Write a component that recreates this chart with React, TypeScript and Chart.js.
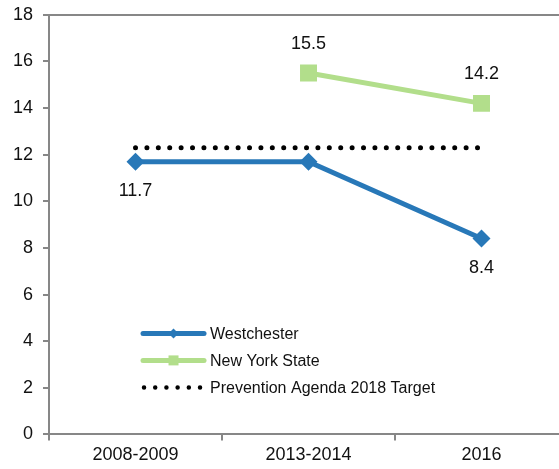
import { useEffect, useRef } from 'react';
import { Chart, registerables } from 'chart.js';

Chart.register(...registerables);

const categories = ['2008-2009', '2013-2014', '2016'];
const westchester = [11.7, 11.7, 8.4];
const newYorkState = [null, 15.5, 14.2];
const preventionTarget = [12.3, 12.3, 12.3];
const seriesNames = ['Westchester', 'New York State', 'Prevention Agenda 2018 Target'];
const westchesterShown = [true, false, true];
const newYorkShown = [false, true, true];
const targetShown = [false, false, false];
const labelSides = ['below', 'above', 'none'];
const yMin = 0;
const yMax = 18;
const yStep = 2;

const FONT = "'Liberation Sans', Arial, Helvetica, sans-serif";
const GRAY = '#878787';
const BLUE = '#2878B8';
const GREEN = '#B2DE8B';
const TEXT = '#111111';

const valueLabelPlugin = {
  id: 'valueLabels',
  afterDatasetsDraw(chart: any) {
    const ctx = chart.ctx;
    ctx.save();
    ctx.font = `18px ${FONT}`;
    ctx.fillStyle = TEXT;
    ctx.textAlign = 'center';
    ctx.textBaseline = 'middle';
    chart.data.datasets.forEach((ds: any, i: number) => {
      const side = ds.labelSide;
      if (!side || side === 'none') return;
      const meta = chart.getDatasetMeta(i);
      meta.data.forEach((pt: any, j: number) => {
        const v = ds.data[j];
        if (v === null || v === undefined) return;
        if (ds.labelShown && !ds.labelShown[j]) return;
        const off = side === 'below' ? 29 : -29;
        ctx.fillText(Number(v).toFixed(1), pt.x, pt.y + off);
      });
    });
    ctx.restore();
  },
};

const legendPlugin = {
  id: 'insideLegend',
  afterDraw(chart: any) {
    const ctx = chart.ctx;
    const area = chart.chartArea;
    const x0 = area.left + 94;
    const len = 61;
    const rowGap = 27;
    const y0 = area.bottom - 101;
    ctx.save();
    chart.data.datasets.forEach((ds: any, i: number) => {
      const y = y0 + i * rowGap;
      ctx.save();
      ctx.strokeStyle = ds.borderColor;
      ctx.fillStyle = ds.borderColor;
      if (ds.borderDash && ds.borderDash.length) {
        ctx.lineWidth = 4.5;
        ctx.lineCap = 'round';
        ctx.setLineDash([0, 11.2]);
        ctx.beginPath();
        ctx.moveTo(x0 + 1, y);
        ctx.lineTo(x0 + 58, y);
        ctx.stroke();
      } else {
        ctx.lineWidth = 5;
        ctx.lineCap = 'round';
        ctx.beginPath();
        ctx.moveTo(x0, y);
        ctx.lineTo(x0 + len, y);
        ctx.stroke();
        const cx = x0 + len / 2;
        ctx.beginPath();
        if (ds.pointStyle === 'rectRot') {
          const r = 5;
          ctx.moveTo(cx, y - r);
          ctx.lineTo(cx + r, y);
          ctx.lineTo(cx, y + r);
          ctx.lineTo(cx - r, y);
          ctx.closePath();
        } else {
          ctx.rect(cx - 5, y - 5, 10, 10);
        }
        ctx.fill();
      }
      ctx.restore();
      ctx.font = `16px ${FONT}`;
      ctx.fillStyle = TEXT;
      ctx.textAlign = 'left';
      ctx.textBaseline = 'middle';
      ctx.fillText(ds.label, x0 + len + 6, y + 1);
    });
    ctx.restore();
  },
};

export default function App() {
  const canvasRef = useRef<HTMLCanvasElement | null>(null);

  useEffect(() => {
    const canvas = canvasRef.current;
    if (!canvas) return;
    const chart = new Chart(canvas, {
      type: 'line',
      data: {
        labels: categories,
        datasets: [
          {
            label: seriesNames[0],
            data: westchester,
            borderColor: BLUE,
            backgroundColor: BLUE,
            borderWidth: 5,
            pointStyle: 'rectRot',
            pointRadius: 9,
            pointBorderWidth: 0,
            pointBackgroundColor: BLUE,
            labelSide: labelSides[0],
            labelShown: westchesterShown,
          } as any,
          {
            label: seriesNames[1],
            data: newYorkState,
            borderColor: GREEN,
            backgroundColor: GREEN,
            borderWidth: 5,
            pointStyle: 'rect',
            pointRadius: 12,
            pointBorderWidth: 0,
            pointBackgroundColor: GREEN,
            spanGaps: false,
            labelSide: labelSides[1],
            labelShown: newYorkShown,
          } as any,
          {
            label: seriesNames[2],
            data: preventionTarget,
            borderColor: '#000000',
            backgroundColor: '#000000',
            borderWidth: 5,
            borderDash: [0, 11.4],
            borderCapStyle: 'round',
            pointRadius: 0,
            labelSide: labelSides[2],
            labelShown: targetShown,
          } as any,
        ],
      },
      options: {
        responsive: false,
        animation: false,
        layout: { padding: { left: 3, top: 3, right: 10, bottom: 5 } },
        plugins: {
          legend: { display: false },
          tooltip: { enabled: false },
        },
        scales: {
          x: {
            type: 'category',
            offset: true,
            grid: {
              offset: true,
              drawOnChartArea: false,
              color: 'transparent',
              tickColor: GRAY,
              tickLength: 6,
              lineWidth: 2,
            },
            border: { color: GRAY, width: 2 },
            ticks: {
              color: TEXT,
              font: { size: 18, family: FONT },
              padding: 4,
              maxRotation: 0,
            },
          },
          y: {
            min: yMin,
            max: yMax,
            grid: {
              color: (c: any) => (c.tick && c.tick.value === yMax ? GRAY : 'transparent'),
              tickColor: GRAY,
              tickLength: 6,
              lineWidth: 2,
            },
            border: { color: GRAY, width: 2 },
            ticks: {
              stepSize: yStep,
              color: TEXT,
              font: { size: 18, family: FONT },
              padding: 10,
            },
          },
        },
      } as any,
      plugins: [valueLabelPlugin, legendPlugin],
    });
    return () => chart.destroy();
  }, []);

  return (
    <div
      style={{
        position: 'absolute',
        left: 0,
        top: 0,
        width: 559,
        height: 469,
        overflow: 'hidden',
        background: '#fff',
      }}
    >
      <canvas
        ref={canvasRef}
        width={580}
        height={481}
        style={{ display: 'block', position: 'absolute', left: 0, top: -6 }}
      />
    </div>
  );
}
